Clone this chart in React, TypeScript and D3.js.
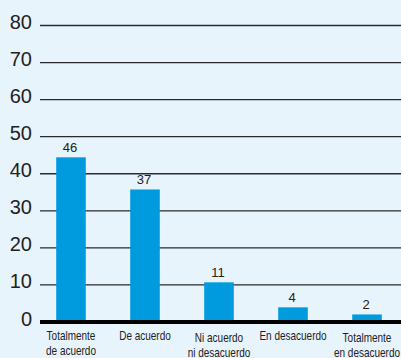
import React from "react";
import * as d3 from "d3";

const categories: string[][] = [
  ["Totalmente", "de acuerdo"],
  ["De acuerdo"],
  ["Ni acuerdo", "ni desacuerdo"],
  ["En desacuerdo"],
  ["Totalmente", "en desacuerdo"],
];
const values: number[] = [46, 37, 11, 4, 2];
const yTicks: number[] = [0, 10, 20, 30, 40, 50, 60, 70, 80];

const W = 401;
const H = 358;

export default function App() {
  React.useEffect(() => {
    document.body.style.margin = "0";
  }, []);

  const x = d3
    .scaleBand<number>()
    .domain(values.map((_, i) => i))
    .range([34, 404])
    .paddingInner(0.6)
    .paddingOuter(0.3);
  const yAxis = d3.scaleLinear().domain([0, 80]).range([322, 25.5]);
  const yBar = d3.scaleLinear().domain([0, 80]).range([321.6, 35.9]);

  const sans = "'Liberation Sans', Arial, Helvetica, sans-serif";

  return (
    <svg
      width={W}
      height={H}
      style={{ position: "absolute", left: 0, top: 0, display: "block" }}
    >
      <rect x={0} y={0} width={W} height={H} fill="#e8f4fc" />
      {yTicks.map((t) => (
        <g key={t}>
          {t !== 0 && (
            <line x1={40} x2={W} y1={yAxis(t)} y2={yAxis(t)} stroke="#2a2a2a" strokeWidth={1.3} />
          )}
          <text
            x={32}
            y={yAxis(t) + 3.5}
            textAnchor="end"
            fontFamily={sans}
            fontSize={20}
            fill="#222"
          >
            {t}
          </text>
        </g>
      ))}
      {values.map((v, i) => (
        <g key={i}>
          <rect
            x={x(i)!}
            y={yBar(v)}
            width={x.bandwidth()}
            height={yBar(0) - yBar(v)}
            fill="#009bdf"
          />
          <text
            x={x(i)! + x.bandwidth() / 2 - 1}
            y={yBar(v) - 5}
            textAnchor="middle"
            fontFamily={sans}
            fontSize={13}
            fill="#222"
          >
            {v}
          </text>
        </g>
      ))}
      <line x1={40} x2={W} y1={322} y2={322} stroke="#000" strokeWidth={4} />
      {categories.map((lines, i) => {
        const cx = x(i)! + x.bandwidth() / 2;
        const dyExtra = lines.length > 1 && i > 1 ? 1.5 : 0;
        return (
          <g key={i} transform={`translate(${cx},${340 + dyExtra}) scale(0.8,1)`}>
            <text textAnchor="middle" fontFamily={sans} fontSize={12.5} fill="#222">
              {lines.map((l, j) => (
                <tspan key={j} x={0} dy={j === 0 ? 0 : 15.5}>
                  {l}
                </tspan>
              ))}
            </text>
          </g>
        );
      })}
    </svg>
  );
}
